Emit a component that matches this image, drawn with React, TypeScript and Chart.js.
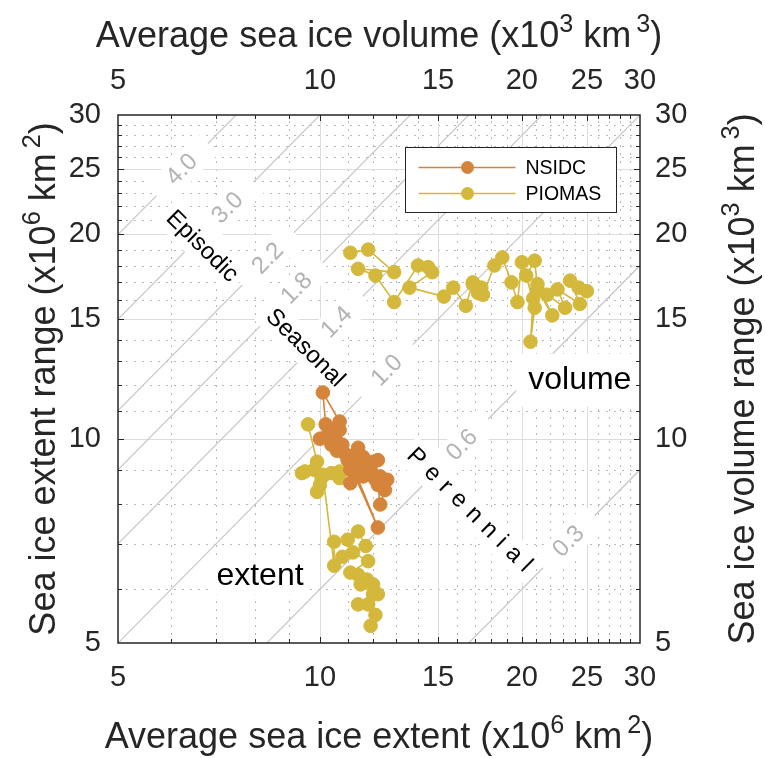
import React, { useEffect, useRef } from 'react';
import { Chart, registerables } from 'chart.js';

Chart.register(...registerables);

const FONT = '"Liberation Sans", Arial, Helvetica, sans-serif';
const TEXT_COLOR = '#262626';
const NSIDC_COLOR = '#d5843b';
const PIOMAS_COLOR = '#d4b83c';

// ---- data (x = average, y = range) ----
const NSIDC_EXTENT_AVG = [12.4, 12.6, 12.3, 12.5, 12.3, 12.2, 12.1, 11.9, 12.2, 12.0, 11.8, 11.6, 11.7, 11.4, 11.0, 12.2, 11.2, 11.6, 11.5, 11.4, 11.3, 11.1, 10.9, 11.1, 10.8, 10.6, 10.7, 10.5, 10.4, 10.0, 10.2, 10.1, 10.7, 10.5, 10.6, 10.3];
const NSIDC_EXTENT_RANGE = [8.5, 8.7, 8.8, 8.4, 8.0, 8.55, 8.7, 9.0, 9.3, 9.25, 8.85, 8.8, 9.15, 8.85, 9.3, 7.4, 9.1, 9.4, 9.1, 9.7, 9.5, 8.6, 9.5, 9.0, 9.8, 9.6, 10.3, 10.1, 9.8, 10.0, 10.5, 11.7, 10.6, 10.3, 9.9, 10.2];

const PIOMAS_EXTENT_AVG = [11.9, 12.1, 11.8, 11.4, 12.2, 12.0, 11.5, 12.0, 11.75, 11.4, 11.1, 11.8, 11.2, 10.8, 11.7, 11.4, 11.0, 10.5, 10.5, 10.1, 10.4, 10.7, 10.7, 10.1, 10.0, 9.9, 9.8, 9.4, 9.5, 9.9, 9.6];
const PIOMAS_EXTENT_RANGE = [5.3, 5.5, 5.7, 5.7, 5.9, 5.9, 6.1, 6.1, 6.2, 6.3, 6.35, 6.6, 6.8, 6.7, 6.95, 7.3, 7.1, 7.05, 6.5, 8.85, 8.9, 8.95, 8.75, 8.8, 8.55, 8.35, 9.0, 8.9, 8.95, 9.25, 10.5];

const PIOMAS_VOLUME_AVG = [24.3, 25.0, 23.6, 24.4, 22.6, 23.2, 21.8, 21.1, 22.2, 21.1, 20.9, 20.3, 20.9, 20.6, 20.8, 20.0, 19.7, 19.3, 18.7, 18.2, 17.5, 17.4, 16.9, 17.2, 16.9, 16.5, 15.8, 15.3, 13.6, 14.7, 14.5, 14.0, 12.9, 12.1, 11.4, 12.9, 11.8, 11.1];
const PIOMAS_VOLUME_RANGE = [16.7, 16.5, 17.1, 15.8, 16.6, 15.6, 16.3, 16.9, 15.2, 16.6, 18.3, 17.4, 15.6, 13.9, 16.1, 18.2, 15.9, 17.0, 18.5, 18.0, 16.3, 16.7, 16.9, 16.4, 17.0, 15.7, 16.7, 16.2, 16.7, 17.6, 17.9, 18.0, 15.9, 17.4, 17.8, 17.6, 19.0, 18.8];

// ---- axes ----
const AXIS_MIN = 5;
const AXIS_MAX = 30;
const TICK_VALUES = [5, 6, 7, 8, 9, 10, 11, 12, 13, 14, 15, 16, 17, 18, 19, 20, 21, 22, 23, 24, 25, 26, 27, 28, 29, 30];
const TICK_LABELS = [5, 10, 15, 20, 25, 30];
const MAJOR_GRID = [10, 15, 20, 25];

// ---- ratio (range / average) reference lines ----
const RATIOS = [4.0, 3.0, 2.2, 1.8, 1.4, 1.0, 0.6, 0.3];
const RATIO_LABEL_AT = [6.23, 7.29, 8.37, 9.24, 10.6, 12.6, 16.3, 23.5];

const REGION_TEXTS = [
  { text: 'Episodic', x: 6.67, y: 19.2, perp: true, size: 24, spacing: 0, padX: 6, padY: 5 },
  { text: 'Seasonal', x: 9.5, y: 13.6, perp: true, size: 24, spacing: 0, padX: 6, padY: 5 },
  { text: 'Perennial', x: 16.7, y: 7.85, perp: true, size: 24, spacing: 8, padX: 6, padY: 5 },
  { text: 'volume', x: 24.4, y: 12.2, perp: false, size: 32, spacing: 0, padX: 12, padY: 12 },
  { text: 'extent', x: 8.14, y: 6.27, perp: false, size: 32, spacing: 0, padX: 6, padY: 4 },
];

const BOTTOM_TITLE = [
  { t: 'Average sea ice extent (x10', sup: false },
  { t: '6', sup: true },
  { t: ' km', sup: false },
  { t: '2', sup: true, gap: 5 },
  { t: ')', sup: false },
];
const TOP_TITLE = [
  { t: 'Average sea ice volume (x10', sup: false },
  { t: '3', sup: true },
  { t: ' km', sup: false },
  { t: '3', sup: true, gap: 5 },
  { t: ')', sup: false },
];
const LEFT_TITLE = [
  { t: 'Sea ice extent range (x10', sup: false },
  { t: '6', sup: true },
  { t: ' km', sup: false },
  { t: '2', sup: true, gap: 5 },
  { t: ')', sup: false },
];
const RIGHT_TITLE = [
  { t: 'Sea ice volume range (x10', sup: false },
  { t: '3', sup: true },
  { t: ' km', sup: false },
  { t: '3', sup: true, gap: 5 },
  { t: ')', sup: false },
];

function toPoints(xs: number[], ys: number[]) {
  return xs.map((v, i) => ({ x: v, y: ys[i] }));
}

function drawBoxedText(ctx: CanvasRenderingContext2D, text: string, cx: number, cy: number, angle: number,
  size: number, color: string, padX: number, padY: number, spacing: number) {
  ctx.save();
  ctx.translate(cx, cy);
  ctx.rotate(angle);
  ctx.font = `${size}px ${FONT}`;
  const chars = spacing ? Array.from(text) : [text];
  const widths = chars.map((c) => ctx.measureText(c).width);
  const w = widths.reduce((s, v) => s + v, 0) + spacing * (chars.length - 1);
  const h = size * 0.9;
  ctx.fillStyle = '#ffffff';
  ctx.fillRect(-w / 2 - padX, -h / 2 - padY, w + 2 * padX, h + 2 * padY);
  ctx.fillStyle = color;
  ctx.textBaseline = 'middle';
  ctx.textAlign = 'left';
  let x0 = -w / 2;
  chars.forEach((c, i) => {
    ctx.fillText(c, x0, 0);
    x0 += widths[i] + spacing;
  });
  ctx.restore();
}

function drawRich(ctx: CanvasRenderingContext2D, parts: any[], size: number, x: number, y: number, rot: number) {
  ctx.save();
  ctx.translate(x, y);
  ctx.rotate(rot);
  ctx.fillStyle = TEXT_COLOR;
  ctx.textBaseline = 'alphabetic';
  ctx.textAlign = 'left';
  const supSize = size * 0.7;
  const widths = parts.map((p) => {
    ctx.font = `${p.sup ? supSize : size}px ${FONT}`;
    return ctx.measureText(p.t).width + (p.gap || 0);
  });
  const total = widths.reduce((s, v) => s + v, 0);
  let cx = -total / 2;
  parts.forEach((p, i) => {
    ctx.font = `${p.sup ? supSize : size}px ${FONT}`;
    ctx.fillText(p.t, cx + (p.gap || 0), p.sup ? -size * 0.42 : 0);
    cx += widths[i];
  });
  ctx.restore();
}

const decorPlugin = {
  id: 'seaIceDecor',
  beforeDatasetsDraw(chart: any) {
    const { ctx, chartArea: a } = chart;
    const xs = chart.scales.x;
    const ys = chart.scales.y;
    ctx.save();
    ctx.beginPath();
    ctx.rect(a.left, a.top, a.right - a.left, a.bottom - a.top);
    ctx.clip();

    // minor dotted grid
    ctx.lineWidth = 1;
    ctx.strokeStyle = '#b9b9b9';
    ctx.setLineDash([2, 6]);
    TICK_VALUES.forEach((v) => {
      if (v <= AXIS_MIN || v >= AXIS_MAX || MAJOR_GRID.includes(v)) return;
      const px = Math.round(xs.getPixelForValue(v)) + 0.5;
      const py = Math.round(ys.getPixelForValue(v)) + 0.5;
      ctx.beginPath();
      ctx.moveTo(px, a.bottom); ctx.lineTo(px, a.top);
      ctx.moveTo(a.left, py); ctx.lineTo(a.right, py);
      ctx.stroke();
    });
    // major solid grid
    ctx.setLineDash([]);
    ctx.strokeStyle = '#dcdcdc';
    MAJOR_GRID.forEach((v) => {
      const px = Math.round(xs.getPixelForValue(v)) + 0.5;
      const py = Math.round(ys.getPixelForValue(v)) + 0.5;
      ctx.beginPath();
      ctx.moveTo(px, a.bottom); ctx.lineTo(px, a.top);
      ctx.moveTo(a.left, py); ctx.lineTo(a.right, py);
      ctx.stroke();
    });

    // ratio lines
    ctx.strokeStyle = '#c6c6c6';
    ctx.lineWidth = 1.2;
    RATIOS.forEach((r) => {
      ctx.beginPath();
      ctx.moveTo(xs.getPixelForValue(AXIS_MIN), ys.getPixelForValue(AXIS_MIN * r));
      ctx.lineTo(xs.getPixelForValue(AXIS_MAX), ys.getPixelForValue(AXIS_MAX * r));
      ctx.stroke();
    });
    const lineAngle = Math.atan2(
      ys.getPixelForValue(AXIS_MAX) - ys.getPixelForValue(AXIS_MIN),
      xs.getPixelForValue(AXIS_MAX) - xs.getPixelForValue(AXIS_MIN)
    );

    // ratio labels
    RATIOS.forEach((r, i) => {
      const xv = RATIO_LABEL_AT[i];
      const px = xs.getPixelForValue(xv);
      const py = ys.getPixelForValue(xv * r);
      drawBoxedText(ctx, r.toFixed(1), px, py, lineAngle, 24, '#b3b3b3', 20, 4, 0);
    });

    // region texts
    REGION_TEXTS.forEach((t) => {
      const px = xs.getPixelForValue(t.x);
      const py = ys.getPixelForValue(t.y);
      const ang = t.perp ? lineAngle + Math.PI / 2 : 0;
      drawBoxedText(ctx, t.text, px, py, ang, t.size, '#000000', t.padX, t.padY, t.spacing);
    });
    ctx.restore();
  },
  afterDatasetsDraw(chart: any) {
    const { ctx, chartArea: a } = chart;
    const xs = chart.scales.x;
    const ys = chart.scales.y;
    ctx.save();

    // legend
    const items = chart.data.datasets.filter((d: any) => d.inLegend);
    const bw = 211, bh = 65;
    const bx = Math.round(a.right - 24 - bw) + 0.5;
    const by = Math.round(a.top + 32) + 0.5;
    ctx.fillStyle = '#ffffff';
    ctx.fillRect(bx, by, bw, bh);
    ctx.strokeStyle = TEXT_COLOR;
    ctx.lineWidth = 1;
    ctx.strokeRect(bx, by, bw, bh);
    items.forEach((d: any, i: number) => {
      const cy = by + 20 + i * 26;
      ctx.strokeStyle = d.borderColor;
      ctx.lineWidth = 1.5;
      ctx.beginPath();
      ctx.moveTo(bx + 13, cy); ctx.lineTo(bx + 110, cy);
      ctx.stroke();
      ctx.fillStyle = d.pointBackgroundColor;
      ctx.beginPath();
      ctx.arc(bx + 62, cy, 6.5, 0, Math.PI * 2);
      ctx.fill();
      ctx.fillStyle = '#000000';
      ctx.font = `19.5px ${FONT}`;
      ctx.textBaseline = 'middle';
      ctx.textAlign = 'left';
      ctx.fillText(d.label, bx + 120, cy + 1);
    });

    // inward ticks
    ctx.strokeStyle = TEXT_COLOR;
    ctx.lineWidth = 1;
    TICK_VALUES.forEach((v) => {
      if (v <= AXIS_MIN || v >= AXIS_MAX) return;
      const len = TICK_LABELS.includes(v) ? 6 : 4;
      const px = Math.round(xs.getPixelForValue(v)) + 0.5;
      const py = Math.round(ys.getPixelForValue(v)) + 0.5;
      ctx.beginPath();
      ctx.moveTo(px, a.bottom); ctx.lineTo(px, a.bottom - len);
      ctx.moveTo(px, a.top); ctx.lineTo(px, a.top + len);
      ctx.moveTo(a.left, py); ctx.lineTo(a.left + len, py);
      ctx.moveTo(a.right, py); ctx.lineTo(a.right - len, py);
      ctx.stroke();
    });
    // axis box
    ctx.lineWidth = 1.5;
    ctx.strokeRect(a.left, a.top, a.right - a.left, a.bottom - a.top);

    // axis titles
    const cxm = (a.left + a.right) / 2;
    const cym = (a.top + a.bottom) / 2;
    drawRich(ctx, BOTTOM_TITLE, 36, cxm, 748, 0);
    drawRich(ctx, TOP_TITLE, 36, cxm, 47, 0);
    drawRich(ctx, LEFT_TITLE, 36, 55, cym, -Math.PI / 2);
    drawRich(ctx, RIGHT_TITLE, 36, 754, cym, -Math.PI / 2);
    ctx.restore();
  },
};

function makeScale(position: string, padding: number, size: number) {
  return {
    type: 'logarithmic',
    position,
    min: AXIS_MIN,
    max: AXIS_MAX,
    grid: { display: false, drawTicks: false },
    border: { display: false },
    ticks: {
      autoSkip: false,
      maxRotation: 0,
      minRotation: 0,
      padding,
      color: TEXT_COLOR,
      font: { family: FONT, size: 29 },
      callback: (v: any) => (TICK_LABELS.includes(Number(v)) ? String(v) : ''),
    },
    afterBuildTicks: (scale: any) => {
      scale.ticks = TICK_VALUES.map((v) => ({ value: v }));
    },
    afterFit: (scale: any) => {
      if (position === 'top' || position === 'bottom') scale.height = size;
      else scale.width = size;
    },
  };
}

export default function App() {
  const ref = useRef<HTMLCanvasElement>(null);
  useEffect(() => {
    document.body.style.margin = '0';
    const canvas = ref.current;
    if (!canvas) return;
    const pointStyle = (color: string) => ({
      borderColor: color,
      backgroundColor: color,
      pointBackgroundColor: color,
      pointBorderColor: color,
      pointRadius: 6.8,
      pointBorderWidth: 1,
      borderWidth: 1.6,
      showLine: true,
      tension: 0,
    });
    const chart = new Chart(canvas, {
      type: 'scatter',
      data: {
        datasets: [
          { label: 'NSIDC', inLegend: true, data: toPoints(NSIDC_EXTENT_AVG, NSIDC_EXTENT_RANGE), ...pointStyle(NSIDC_COLOR) } as any,
          { label: 'PIOMAS', inLegend: true, data: toPoints(PIOMAS_EXTENT_AVG, PIOMAS_EXTENT_RANGE), ...pointStyle(PIOMAS_COLOR) } as any,
          { label: 'PIOMAS volume', inLegend: false, data: toPoints(PIOMAS_VOLUME_AVG, PIOMAS_VOLUME_RANGE), ...pointStyle(PIOMAS_COLOR) } as any,
        ],
      },
      options: {
        responsive: false,
        animation: false,
        devicePixelRatio: 1,
        layout: { padding: 0 },
        plugins: { legend: { display: false }, tooltip: { enabled: false }, title: { display: false } },
        scales: {
          x: makeScale('bottom', 18, 115) as any,
          x2: makeScale('top', 17, 115) as any,
          y: makeScale('left', 17, 118) as any,
          y2: makeScale('right', 15, 125) as any,
        },
      },
      plugins: [decorPlugin],
    } as any);
    return () => chart.destroy();
  }, []);
  return <canvas ref={ref} width={765} height={758} style={{ display: 'block' }} />;
}
